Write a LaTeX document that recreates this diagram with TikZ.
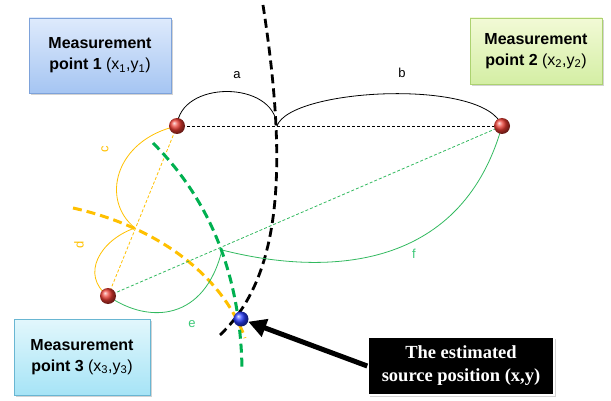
\documentclass[tikz,border=0pt]{standalone}
\usepackage{fontspec}
\setmainfont{Liberation Sans}
\newfontfamily\boxserif{Liberation Serif}
\usetikzlibrary{arrows.meta,shadows}
\definecolor{orng}{RGB}{255,192,0}
\definecolor{grn}{RGB}{0,176,80}
\definecolor{tgrn}{RGB}{50,185,95}
\definecolor{lgrn}{RGB}{60,200,120}
\begin{document}
\begin{tikzpicture}[x=1pt,y=-1pt,
  thickdash/.style={line width=3pt,dash pattern=on 9pt off 5pt},
  thindash/.style={line width=0.8pt,dash pattern=on 3pt off 2pt},
  thinline/.style={line width=0.8pt},
  redball/.style={circle,minimum size=16pt,inner sep=0pt,shading=ball,ball color={rgb,255:red,235;green,60;blue,50}},
  blueball/.style={circle,minimum size=15pt,inner sep=0pt,shading=ball,ball color={rgb,255:red,40;green,60;blue,255}},
  lbl/.style={font=\fontsize{13}{15}\selectfont,inner sep=0pt},
  mbox/.style={rectangle,align=center,inner sep=0pt,line width=0.8pt,
    font=\fontsize{16}{21}\selectfont\bfseries,
    drop shadow={opacity=0.35,shadow xshift=1.5pt,shadow yshift=-2pt}},
]
\useasboundingbox (0,0) rectangle (611,401);
% points
\coordinate (p1c) at (177,126);
\coordinate (p2c) at (502,126);
\coordinate (p3c) at (108,296);
\coordinate (x1) at (135,228);
\coordinate (x2) at (222,250);
\coordinate (bt) at (277,126);
% black
\draw[thindash] (p1c) -- (p2c);
\draw[thinline] (p1c) .. controls (180,80) and (274,80) .. (bt);
\draw[thinline] (bt) .. controls (290,88) and (485,78) .. (p2c);
\draw[line width=2.8pt,dash pattern=on 9pt off 5pt] (263,5) .. controls (290,180) and (278,280) .. (220,335);
% orange
\draw[orng,thindash] (p1c) -- (p3c);
\draw[orng,thinline] (p1c) .. controls (115,140) and (100,200) .. (x1);
\draw[orng,thinline] (x1) .. controls (100,240) and (80,275) .. (p3c);
\draw[orng,thickdash] (73,208) .. controls (150,225) and (220,270) .. (245,338);
% green
\draw[tgrn,thindash] (p3c) -- (p2c);
\draw[tgrn,thinline] (p3c) .. controls (150,325) and (205,320) .. (x2);
\draw[tgrn,thinline] (x2) .. controls (320,275) and (460,275) .. (p2c);
\draw[grn,thickdash] (153,143) .. controls (200,190) and (240,260) .. (242,368);
% balls
\node[redball] (p1) at (p1c) {};
\node[redball] (p2) at (p2c) {};
\node[redball] (p3) at (p3c) {};
\node[blueball] (src) at (241,319) {};
% labels
\node[lbl] (la) at (237,75) {a};
\node[lbl] (lb) at (402,73) {b};
\node[lbl,orng,rotate=90] (lc) at (105,149) {c};
\node[lbl,orng,rotate=90] (ld) at (79,245) {d};
\node[lbl,lgrn] (le) at (192,324) {e};
\node[lbl,lgrn] (lf) at (414,254) {f};
% boxes
\node[mbox,minimum width=142pt,minimum height=75pt,
  top color={rgb,255:red,222;green,234;blue,252},bottom color={rgb,255:red,165;green,197;blue,242},
  draw={rgb,255:red,125;green,162;blue,218}] (b1) at (100,55.5)
  {Measurement\\point 1 \mdseries(x\textsubscript{1},y\textsubscript{1})};
\node[mbox,minimum width=132pt,minimum height=66pt,
  top color={rgb,255:red,242;green,250;blue,214},bottom color={rgb,255:red,212;green,238;blue,164},
  draw={rgb,255:red,172;green,210;blue,112}] (b2) at (536,51)
  {Measurement\\point 2 \mdseries(x\textsubscript{2},y\textsubscript{2})};
\node[mbox,minimum width=136pt,minimum height=76pt,
  top color={rgb,255:red,226;green,247;blue,252},bottom color={rgb,255:red,166;green,228;blue,246},
  draw={rgb,255:red,105;green,182;blue,210}] (b3) at (82,357)
  {Measurement\\point 3 \mdseries(x\textsubscript{3},y\textsubscript{3})};
\node[rectangle,align=center,inner sep=0pt,minimum width=186pt,minimum height=58pt,
  fill=black,draw=white,line width=1.5pt,text=white,
  font=\boxserif\fontsize{18.5}{23}\selectfont\bfseries,
  drop shadow={opacity=0.35,shadow xshift=1.5pt,shadow yshift=-2pt}] (b4) at (461,366)
  {The estimated\\source position (x,y)};
% arrow
\draw[line width=5pt,-{Triangle[length=18pt,width=18pt]}] (b4.west) -- (src);
\end{tikzpicture}
\end{document}
